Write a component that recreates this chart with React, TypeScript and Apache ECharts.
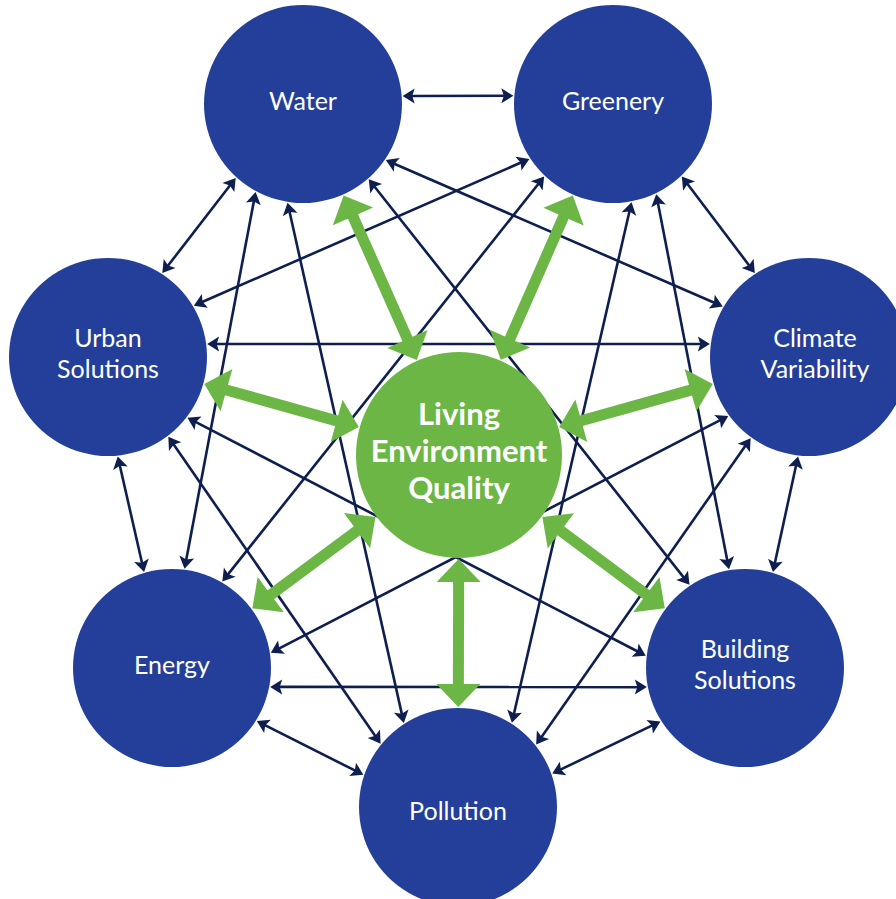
import React, { useEffect, useRef } from "react";
import * as echarts from "echarts";

// ---- data ----
const nodeNames = [
  "Water",
  "Greenery",
  "Climate\nVariability",
  "Building\nSolutions",
  "Pollution",
  "Energy",
  "Urban\nSolutions",
];
const nodeX = [303, 613, 809, 745, 458, 172, 108];
const nodeY = [104, 104, 357, 668, 807, 668, 357];

const hubName = "Living\nEnvironment\nQuality";
const hubX = 459;
const hubY = 455;

// [from, to, anchor angle on "from" circle (deg), anchor angle on "to" circle (deg)]
const links = [
  [0, 1, -4.6, -175.3],
  [0, 6, 132.3, -57.1],
  [0, 2, 34.1, -149.6],
  [0, 3, 48.9, -123.7],
  [0, 4, 98.9, -122.8],
  [0, 5, 118.3, -82.8],
  [1, 6, 146.7, -30.9],
  [1, 5, 133.5, -59.8],
  [1, 4, 79.3, -57.4],
  [1, 3, 64.4, -99.2],
  [1, 2, 46.5, -122.8],
  [2, 6, -172.5, -7.5],
  [2, 5, 143.8, -8.8],
  [2, 4, 125.7, -38.6],
  [2, 3, 96.3, -73.8],
  [6, 5, 84.4, -106.2],
  [6, 4, 52.9, -140.7],
  [6, 3, 37.4, -172.9],
  [5, 4, 32, -161.2],
  [5, 3, 10.9, 169],
  [4, 3, -19.5, 147.7],
];

// hub -> every outer node
const hubLinks = [0, 1, 2, 3, 4, 5, 6];

// ---- style constants ----
const W = 896;
const H = 899;
const NODE_R = 99;
const HUB_R = 103;
const BLUE = "#233f99";
const NAVY = "#0e1f4f";
const GREEN = "#6cb645";
const FONT = "Lato";
const labelOffsets = [
  [0, -4],
  [0, -4],
  [6, -5],
  [0, -5],
  [0, 3],
  [0, -4],
  [0, -5],
];

function arrowParts(
  a: number[],
  b: number[],
  headLen: number,
  headHalf: number,
  notch: number
) {
  const dx = b[0] - a[0];
  const dy = b[1] - a[1];
  const len = Math.sqrt(dx * dx + dy * dy);
  const ux = dx / len;
  const uy = dy / len;
  const nx = -uy;
  const ny = ux;
  const head = (tip: number[], sx: number, sy: number) => {
    const bx = tip[0] - sx * headLen;
    const by = tip[1] - sy * headLen;
    return [
      [tip[0], tip[1]],
      [bx + nx * headHalf, by + ny * headHalf],
      [tip[0] - sx * (headLen - notch), tip[1] - sy * (headLen - notch)],
      [bx - nx * headHalf, by - ny * headHalf],
    ];
  };
  const headA = head(a, -ux, -uy);
  const headB = head(b, ux, uy);
  const lineA = [a[0] + ux * (headLen - notch - 1), a[1] + uy * (headLen - notch - 1)];
  const lineB = [b[0] - ux * (headLen - notch - 1), b[1] - uy * (headLen - notch - 1)];
  return { headA, headB, lineA, lineB };
}

export default function App() {
  const ref = useRef<HTMLDivElement>(null);

  useEffect(() => {
    if (!ref.current) return;
    const chart = echarts.init(ref.current, null, { renderer: "svg" });

    const rad = Math.PI / 180;

    const option: any = {
      animation: false,
      backgroundColor: "#ffffff",
      grid: { left: 0, right: 0, top: 0, bottom: 0, containLabel: false },
      xAxis: { type: "value", min: 0, max: W, show: false },
      yAxis: { type: "value", min: 0, max: H, inverse: true, show: false },
      series: [
        {
          type: "custom",
          name: "links",
          z: 1,
          silent: true,
          clip: false,
          data: links,
          renderItem: (params: any, api: any) => {
            const f = api.value(0);
            const t = api.value(1);
            const af = api.value(2) * rad;
            const at = api.value(3) * rad;
            const p1 = api.coord([
              nodeX[f] + (NODE_R + 1) * Math.cos(af),
              nodeY[f] + (NODE_R + 1) * Math.sin(af),
            ]);
            const p2 = api.coord([
              nodeX[t] + (NODE_R + 1) * Math.cos(at),
              nodeY[t] + (NODE_R + 1) * Math.sin(at),
            ]);
            const { headA, headB, lineA, lineB } = arrowParts(p1, p2, 12, 7.5, 2.5);
            return {
              type: "group",
              children: [
                {
                  type: "line",
                  shape: { x1: lineA[0], y1: lineA[1], x2: lineB[0], y2: lineB[1] },
                  style: { stroke: NAVY, lineWidth: 2.6 },
                },
                { type: "polygon", shape: { points: headA }, style: { fill: NAVY } },
                { type: "polygon", shape: { points: headB }, style: { fill: NAVY } },
              ],
            };
          },
        },
        {
          type: "scatter",
          name: "nodes",
          z: 2,
          silent: true,
          symbol: "circle",
          symbolSize: NODE_R * 2,
          itemStyle: { color: BLUE, opacity: 1 },
          data: nodeNames.map((n, i) => ({
            name: n,
            value: [nodeX[i], nodeY[i]],
            label: { offset: labelOffsets[i] },
          })),
          label: {
            show: true,
            position: "inside",
            formatter: "{b}",
            color: "#ffffff",
            fontFamily: FONT,
            fontSize: 25,
            lineHeight: 31,
          },
        },
        {
          type: "custom",
          name: "hubLinks",
          z: 3,
          silent: true,
          clip: false,
          data: hubLinks.map((i) => [i, 0]),
          renderItem: (params: any, api: any) => {
            const i = api.value(0);
            const dx = nodeX[i] - hubX;
            const dy = nodeY[i] - hubY;
            const d = Math.sqrt(dx * dx + dy * dy);
            const ux = dx / d;
            const uy = dy / d;
            const p1 = api.coord([hubX + ux * (HUB_R + 1), hubY + uy * (HUB_R + 1)]);
            const p2 = api.coord([nodeX[i] - ux * (NODE_R + 1), nodeY[i] - uy * (NODE_R + 1)]);
            const { headA, headB, lineA, lineB } = arrowParts(p1, p2, 23, 22, 0);
            return {
              type: "group",
              children: [
                {
                  type: "line",
                  shape: { x1: lineA[0], y1: lineA[1], x2: lineB[0], y2: lineB[1] },
                  style: { stroke: GREEN, lineWidth: 11 },
                },
                { type: "polygon", shape: { points: headA }, style: { fill: GREEN } },
                { type: "polygon", shape: { points: headB }, style: { fill: GREEN } },
              ],
            };
          },
        },
        {
          type: "scatter",
          name: "hub",
          z: 4,
          silent: true,
          symbol: "circle",
          symbolSize: HUB_R * 2,
          itemStyle: { color: GREEN, opacity: 1 },
          data: [{ name: hubName, value: [hubX, hubY] }],
          label: {
            show: true,
            position: "inside",
            formatter: "{b}",
            color: "#ffffff",
            fontFamily: FONT,
            fontWeight: "bold",
            fontSize: 31,
            lineHeight: 37,
            offset: [0, -5],
          },
        },
      ],
    };

    chart.setOption(option);
    return () => chart.dispose();
  }, []);

  return (
    <div
      ref={ref}
      style={{ position: "fixed", left: 0, top: 0, width: W, height: H, background: "#fff" }}
    />
  );
}
